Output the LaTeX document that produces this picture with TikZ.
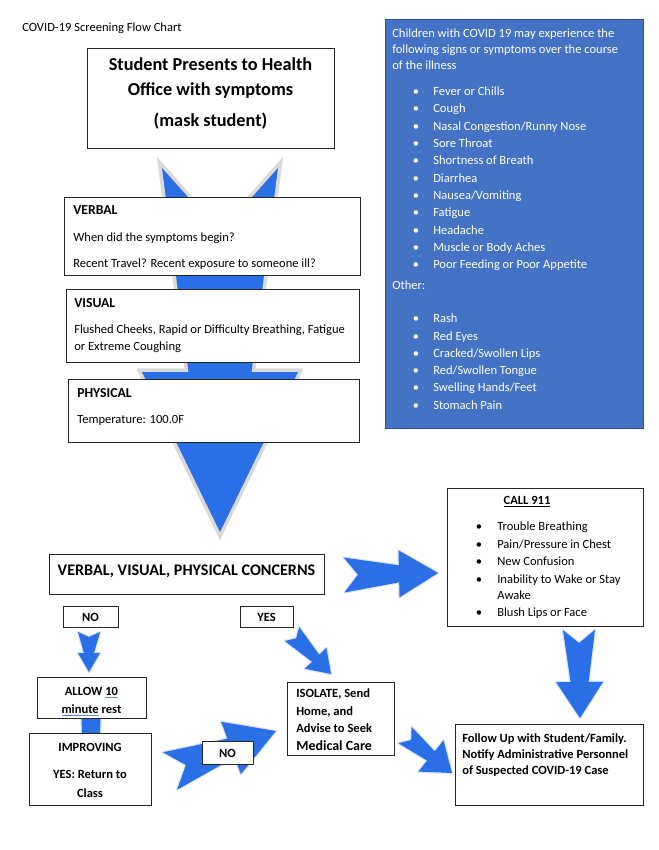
\documentclass[tikz,border=0pt]{standalone}
\usepackage{fontspec}
\setmainfont{Carlito}
\usepackage{tikz}
\usetikzlibrary{calc,fit}
\definecolor{arrowblue}{HTML}{2A6FE6}
\definecolor{panelblue}{HTML}{4472C4}
\definecolor{panelline}{HTML}{2F528F}
\definecolor{glowgrey}{HTML}{DADADA}
\definecolor{glowblue}{HTML}{D8E5FA}
\definecolor{markblue}{HTML}{5B8BE0}
\newcommand{\bodyfont}{\fontsize{9.4}{11}\selectfont}
\newcommand{\headfont}{\fontsize{10.3}{12}\selectfont\bfseries}
\newcommand{\startfont}{\fontsize{13.7}{16}\selectfont\bfseries}
\newcommand{\concernfont}{\fontsize{12.1}{14}\selectfont\bfseries}
\newcommand{\medfont}{\fontsize{10.5}{12}\selectfont\bfseries}
\newcommand{\gram}[1]{{\color{markblue}\underline{\textcolor{black}{#1}}}}
\tikzstyle{box} = [draw=black!85, fill=white, line width=0.75pt, inner sep=0pt]
\tikzstyle{panel} = [draw=panelline, fill=panelblue, line width=0.75pt, inner sep=0pt]
\tikzstyle{txt} = [inner sep=0pt, anchor=base west, font=\bodyfont]
\tikzstyle{ctxt} = [inner sep=0pt, anchor=base, font=\bodyfont]
\tikzstyle{hd} = [txt, font=\bodyfont\bfseries]
\tikzstyle{chd} = [ctxt, font=\bodyfont\bfseries]
\tikzstyle{wtxt} = [txt, text=white]
\tikzstyle{smallglow} = [preaction={draw=glowblue, line width=1.8pt, line join=round}]
\tikzstyle{bigglow} = [preaction={draw=glowgrey, line width=5.5pt, miter limit=10}]
% notched block arrow: [style]{from}{to}{tail half}{neck half}{head half}{head length}{notch}
\newcommand{\blockarrow}[8][smallglow]{%
  \pgfpointdiff{\pgfpointanchor{#2}{center}}{\pgfpointanchor{#3}{center}}%
  \pgfgetlastxy{\arrdx}{\arrdy}%
  \pgfmathsetmacro{\arrlen}{veclen(\arrdx,\arrdy)/0.75}%
  \pgfmathsetmacro{\arrang}{atan2(\arrdy,\arrdx)}%
  \begin{scope}[shift={(#2)}, rotate=\arrang]
    \fill[arrowblue, #1] (0,#4) -- (\arrlen-#7,#5) -- (\arrlen-#7,#6) -- (\arrlen,0)
      -- (\arrlen-#7,-#6) -- (\arrlen-#7,-#5) -- (0,-#4) -- (#8,0) -- cycle;
  \end{scope}}

\begin{document}
\begin{tikzpicture}[x=0.75pt, y=-0.75pt]
\useasboundingbox (0,0) rectangle (659,850);
\fill[white] (0,0) rectangle (659,850);

\node (title) [txt] at (22,31) {COVID-19 Screening Flow Chart};

% arrows (behind the boxes)
\coordinate (big-tail) at (220,168);
\coordinate (big-tip) at (220,532);
\blockarrow[bigglow]{big-tail}{big-tip}{58}{31.5}{78}{160}{65}
\coordinate (concerns-out) at (344,575);
\coordinate (call-in) at (438,573);
\blockarrow{concerns-out}{call-in}{17.5}{8.5}{23.5}{39}{14}
\coordinate (no-out) at (89,632);
\coordinate (allow-in) at (89,672);
\blockarrow{no-out}{allow-in}{11}{5}{11}{19}{5}
\coordinate (allow-out) at (91,705);
\coordinate (improving-in) at (91,748);
\blockarrow{allow-out}{improving-in}{10}{9}{14}{14}{3}
\coordinate (yes-out) at (292,634);
\coordinate (isolate-in) at (331,674);
\blockarrow{yes-out}{isolate-in}{10}{5}{15}{22}{6}
\coordinate (call-out) at (579,630);
\coordinate (follow-in) at (580,718);
\blockarrow{call-out}{follow-in}{16}{9}{23.5}{36}{13}
\coordinate (improving-out) at (170,771);
\coordinate (isolate-in2) at (276,731);
\blockarrow{improving-out}{isolate-in2}{20}{10}{28}{48}{17}
\coordinate (isolate-out) at (405,735);
\coordinate (follow-in2) at (452,773);
\blockarrow{isolate-out}{follow-in2}{10.5}{6}{20}{27}{8}

% start
\node (start) [box, fit={(87,48) (334,148)}] {};
\node (start1) [ctxt, font=\startfont] at (210.5,70) {Student Presents to Health};
\node (start2) [ctxt, font=\startfont] at (210.5,95) {Office with symptoms};
\node (start3) [ctxt, font=\startfont] at (210.5,126) {(mask student)};

% symptoms panel
\node (symptoms) [panel, fit={(385,19) (643,428)}] {};
\node (sym1) [wtxt] at (392,37) {Children with COVID 19 may experience the};
\node (sym2) [wtxt] at (392,53) {following signs or symptoms over the course};
\node (sym3) [wtxt] at (392,69) {of the illness};
\foreach \s [count=\i from 0] in {Fever or Chills, Cough, Nasal Congestion/Runny Nose,
    Sore Throat, Shortness of Breath, Diarrhea, Nausea/Vomiting, Fatigue, Headache,
    Muscle or Body Aches, Poor Feeding or Poor Appetite} {
  \node (symdot\i) [wtxt, anchor=base] at (416,{95.3+17.35*\i}) {•};
  \node (symitem\i) [wtxt] at (433,{95.3+17.35*\i}) {\s};
}
\node (other) [wtxt] at (392,289) {Other:};
\foreach \s [count=\i from 0] in {Rash, Red Eyes, Cracked/Swollen Lips,
    Red/Swollen Tongue, Swelling Hands/Feet, Stomach Pain} {
  \node (othdot\i) [wtxt, anchor=base] at (416,{322.7+17.3*\i}) {•};
  \node (othitem\i) [wtxt] at (433,{322.7+17.3*\i}) {\s};
}

% checks
\node (verbal) [box, fit={(64,197) (360,275)}] {};
\node (verbal1) [txt, font=\headfont] at (73,214) {VERBAL};
\node (verbal2) [txt] at (73,241) {When did the symptoms begin?};
\node (verbal3) [txt] at (73,267) {Recent Travel? Recent exposure to someone ill?};
\node (visual) [box, fit={(66,289) (359,362)}] {};
\node (visual1) [txt, font=\headfont] at (74,307) {VISUAL};
\node (visual2) [txt] at (74,333) {Flushed Cheeks, Rapid or Difficulty Breathing, Fatigue};
\node (visual3) [txt] at (74,350) {or Extreme Coughing};
\node (physical) [box, fit={(68,379) (359,442)}] {};
\node (physical1) [txt, font=\headfont] at (77,397) {PHYSICAL};
\node (physical2) [txt] at (77,423) {Temperature: 100.0F};

% decision
\node (concerns) [box, fit={(49,554) (324,594)}] {};
\node (concerns1) [ctxt, font=\concernfont] at (186.5,575) {VERBAL, VISUAL, PHYSICAL CONCERNS};
\node (no) [box, fit={(63,606) (118,627)}] {};
\node (no1) [chd] at (90.5,621) {NO};
\node (yes) [box, fit={(240,606) (293,627)}] {};
\node (yes1) [chd] at (266.5,621) {YES};

% emergency
\node (call) [box, fit={(447,488) (643,626)}] {};
\node (call1) [chd] at (527,504) {\underline{CALL 911}};
\foreach \y/\s in {530/{Trouble Breathing}, 548/{Pain/Pressure in Chest}, 565/{New Confusion},
    583/{Inability to Wake or Stay}, 616/{Blush Lips or Face}} {
  \node (calldot\y) [ctxt] at (479,\y) {•};
  \node (callitem\y) [txt] at (497,\y) {\s};
}
\node (callitem599) [txt] at (497,599) {Awake};

% outcomes
\node (allow) [box, fit={(37,677) (146,718)}] {};
\node (allow1) [chd] at (91.5,695) {ALLOW \gram{10}};
\node (allow2) [chd] at (91.5,713) {\gram{minute} rest};
\node (improving) [box, fit={(29,733) (151,805)}] {};
\node (improving1) [chd] at (90,751) {IMPROVING};
\node (improving2) [chd] at (90,778) {YES: Return to};
\node (improving3) [chd] at (90,797) {Class};
\node (isolate) [box, fit={(287,682) (394,755)}] {};
\node (isolate1) [hd] at (296,697) {ISOLATE, Send};
\node (isolate2) [hd] at (296,715) {Home, and};
\node (isolate3) [hd] at (296,732) {Advise to Seek};
\node (isolate4) [txt, font=\medfont] at (296,750) {Medical Care};
\node (notbetter) [box, fit={(202,741) (253,764)}] {};
\node (notbetter1) [chd] at (227.5,757) {NO};
\node (follow) [box, fit={(455,724) (643,805)}] {};
\node (follow1) [hd] at (462,742) {Follow Up with Student/Family.};
\node (follow2) [hd] at (462,758) {Notify Administrative Personnel};
\node (follow3) [hd] at (462,774) {of Suspected COVID-19 Case};
\end{tikzpicture}
\end{document}
